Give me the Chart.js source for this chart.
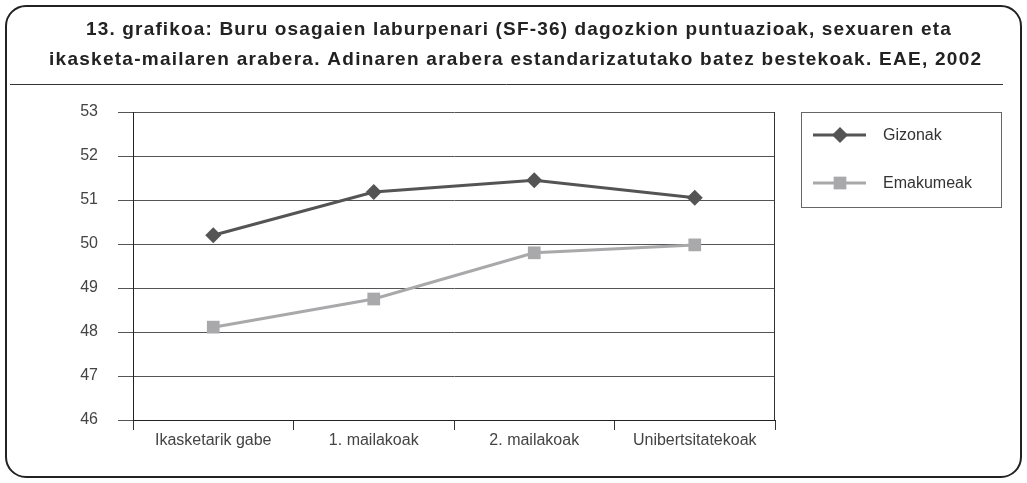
<!DOCTYPE html>
<html>
<head>
<meta charset="utf-8">
<script src="https://cdn.jsdelivr.net/npm/chart.js@4/dist/chart.umd.min.js"></script>
<style>
  html, body { margin: 0; padding: 0; background: #ffffff; }
  #wrap { width: 1027px; height: 483px; position: relative; }
</style>
</head>
<body>
<div id="wrap"><canvas id="c" width="1027" height="483"></canvas></div>
<script>
const titleLines = [
  "13. grafikoa: Buru osagaien laburpenari (SF-36) dagozkion puntuazioak, sexuaren eta",
  "ikasketa-mailaren arabera. Adinaren arabera estandarizatutako batez bestekoak. EAE, 2002"
];
const categories = ["Ikasketarik gabe", "1. mailakoak", "2. mailakoak", "Unibertsitatekoak"];
const seriesNames = ["Gizonak", "Emakumeak"];
const gizonak = [50.2, 51.18, 51.45, 51.05];
const emakumeak = [48.11, 48.75, 49.8, 49.98];
const yTicks = [46, 47, 48, 49, 50, 51, 52, 53];

const FONT = "'Liberation Sans', Arial, Helvetica, sans-serif";

const framePlugin = {
  id: 'frame',
  beforeDraw(chart) {
    const ctx = chart.ctx;
    ctx.save();
    ctx.fillStyle = '#ffffff';
    ctx.fillRect(0, 0, chart.width, chart.height);
    // rounded outer frame
    ctx.strokeStyle = '#222222';
    ctx.lineWidth = 2;
    ctx.beginPath();
    if (ctx.roundRect) ctx.roundRect(6, 6, 1015, 471, 20);
    else ctx.rect(6, 6, 1015, 471);
    ctx.stroke();
    // separator under title
    ctx.strokeStyle = '#333333';
    ctx.lineWidth = 1;
    ctx.beginPath();
    ctx.moveTo(10, 84.5);
    ctx.lineTo(1003, 84.5);
    ctx.stroke();
    // title, two centred lines
    ctx.fillStyle = '#222222';
    ctx.font = 'bold 19px ' + FONT;
    ctx.textAlign = 'left';
    ctx.textBaseline = 'middle';
    const spans = [[86, 951, 30], [49, 981, 60]];
    titleLines.forEach((t, i) => {
      const [x0, x1, y] = spans[i];
      ctx.letterSpacing = '0px';
      const w = ctx.measureText(t).width;
      const extra = (x1 - x0 - w) / (t.length - 1);
      ctx.letterSpacing = extra.toFixed(2) + 'px';
      ctx.fillText(t, x0, y);
    });
    ctx.letterSpacing = '0px';
    ctx.restore();
  },
  afterDraw(chart) {
    const ctx = chart.ctx;
    const a = chart.chartArea;
    ctx.save();
    // right border of plot
    ctx.strokeStyle = '#333333';
    ctx.lineWidth = 1;
    ctx.beginPath();
    ctx.moveTo(Math.round(a.right) - 0.5, a.top);
    ctx.lineTo(Math.round(a.right) - 0.5, a.bottom);
    ctx.stroke();
    // legend box
    const bx = 801.5, by = 112.5, bw = 200, bh = 95;
    ctx.strokeStyle = '#666666';
    ctx.strokeRect(bx, by, bw, bh);
    const rows = [135, 183];
    chart.data.datasets.forEach((ds, i) => {
      const y = rows[i];
      ctx.strokeStyle = ds.borderColor;
      ctx.lineWidth = ds.borderWidth;
      ctx.beginPath();
      ctx.moveTo(813, y);
      ctx.lineTo(866, y);
      ctx.stroke();
      ctx.fillStyle = ds.pointBackgroundColor;
      ctx.beginPath();
      if (ds.pointStyle === 'rectRot') {
        const r = ds.pointRadius;
        ctx.moveTo(840, y - r); ctx.lineTo(840 + r, y); ctx.lineTo(840, y + r); ctx.lineTo(840 - r, y); ctx.closePath();
      } else {
        const s = ds.pointRadius * Math.SQRT1_2;
        ctx.rect(840 - s, y - s, 2 * s, 2 * s);
      }
      ctx.fill();
      ctx.fillStyle = '#333333';
      ctx.font = '16px ' + FONT;
      ctx.textBaseline = 'middle';
      ctx.textAlign = 'left';
      ctx.fillText(ds.label, 883, y + 1);
    });
    ctx.restore();
  }
};

new Chart(document.getElementById('c'), {
  type: 'line',
  data: {
    labels: categories,
    datasets: [
      {
        label: seriesNames[0],
        data: gizonak,
        borderColor: '#545454',
        backgroundColor: '#545454',
        pointBackgroundColor: '#545454',
        pointBorderColor: '#545454',
        borderWidth: 3,
        pointStyle: 'rectRot',
        pointRadius: 8,
        pointBorderWidth: 0,
        tension: 0
      },
      {
        label: seriesNames[1],
        data: emakumeak,
        borderColor: '#a9a9ab',
        backgroundColor: '#a9a9ab',
        pointBackgroundColor: '#a9a9ab',
        pointBorderColor: '#a9a9ab',
        borderWidth: 3,
        pointStyle: 'rect',
        pointRadius: 9,
        pointBorderWidth: 0,
        tension: 0
      }
    ]
  },
  options: {
    responsive: false,
    animation: false,
    devicePixelRatio: 1,
    layout: { padding: { top: 112, left: 0, right: 252, bottom: 23 } },
    plugins: {
      legend: { display: false },
      tooltip: { enabled: false },
      title: { display: false }
    },
    scales: {
      x: {
        type: 'category',
        offset: true,
        grid: {
          offset: true,
          drawOnChartArea: false,
          drawTicks: true,
          tickLength: 10,
          color: '#333333'
        },
        border: { display: true, color: '#222222', width: 1 },
        ticks: {
          color: '#444444',
          font: { family: FONT, size: 16 },
          padding: 1,
          maxRotation: 0,
          autoSkip: false
        },
        afterFit(scale) { scale.height = 40; }
      },
      y: {
        min: 46,
        max: 53,
        afterBuildTicks(scale) { scale.ticks = yTicks.map(v => ({ value: v })); },
        grid: {
          color: '#555555',
          lineWidth: 1,
          drawTicks: true,
          tickLength: 15
        },
        border: { display: true, color: '#222222', width: 1 },
        ticks: {
          color: '#444444',
          font: { family: FONT, size: 16 },
          padding: 20
        },
        afterFit(scale) { scale.width = 133; }
      }
    }
  },
  plugins: [framePlugin]
});
</script>
</body>
</html>
